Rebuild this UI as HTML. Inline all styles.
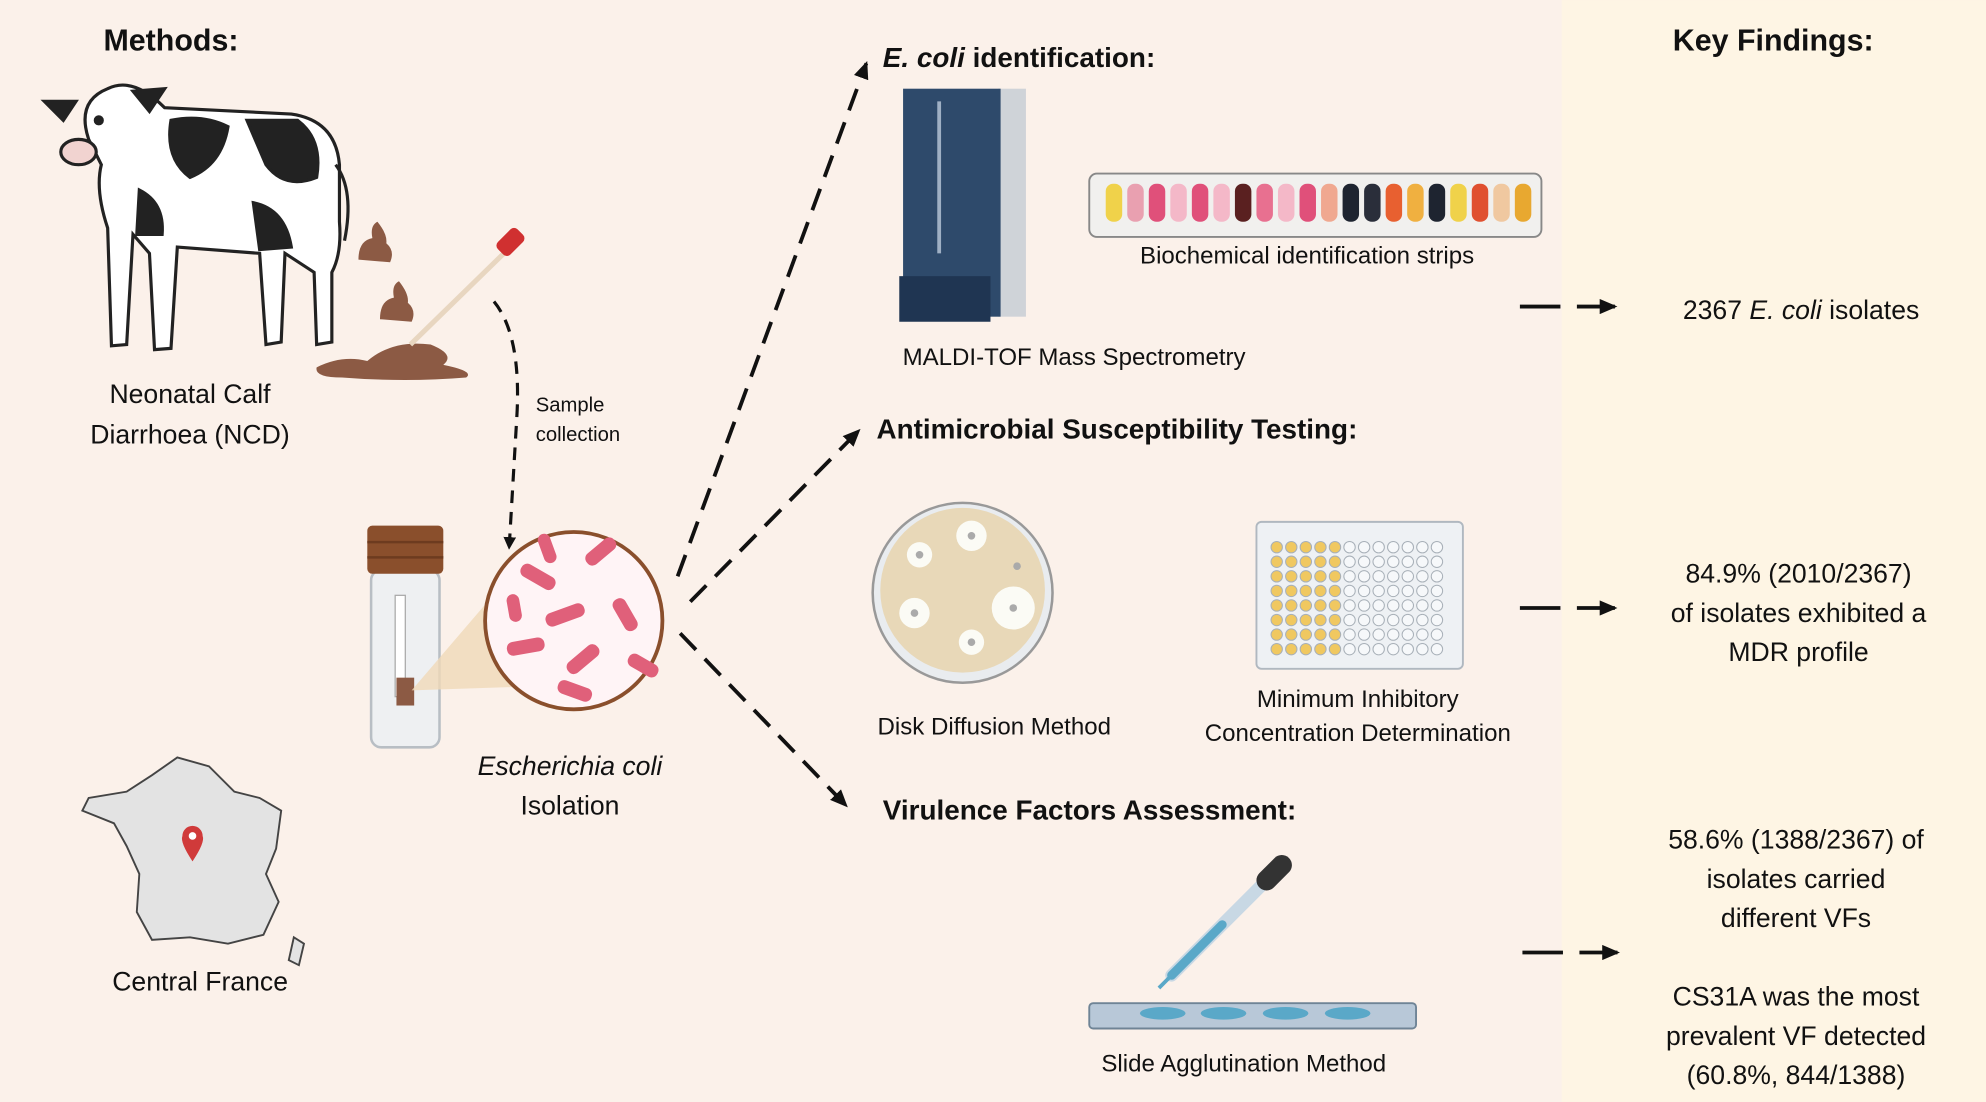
<!DOCTYPE html>
<html><head><meta charset="utf-8"><style>
html,body{margin:0;padding:0;background:#fbf1ea;}
svg{display:block;}
text{font-family:"Liberation Sans",sans-serif;fill:#111;}
</style></head><body>
<svg width="1986" height="1102" viewBox="0 0 1568 870" xmlns="http://www.w3.org/2000/svg">
<defs>
<marker id="ah" markerWidth="10" markerHeight="10" refX="8" refY="5" orient="auto" markerUnits="userSpaceOnUse"><path d="M0,0 L10,5 L0,10 z" fill="#111"/></marker>
<marker id="ah2" markerWidth="14" markerHeight="12" refX="12" refY="6" orient="auto" markerUnits="userSpaceOnUse"><path d="M0,0 L14,6 L0,12 z" fill="#111"/></marker>
</defs>
<rect x="0" y="0" width="1568" height="870" fill="#fbf1ea"/>
<rect x="1233" y="0" width="335" height="870" fill="#fef5e4"/>

<!-- Titles -->
<text x="135" y="40" font-size="24" font-weight="bold" text-anchor="middle">Methods:</text>
<text x="1400" y="40" font-size="24" font-weight="bold" text-anchor="middle">Key Findings:</text>

<!-- Calf -->
<g stroke="#222" stroke-width="2.5">
<path d="M70,110 Q60,80 85,70 Q105,60 130,85 L230,90 Q265,95 268,130 L268,175 Q270,200 262,215 L262,270 L250,272 L248,215 L225,200 L222,270 L210,272 L205,200 L140,195 L135,275 L122,276 L118,200 L105,185 L100,272 L88,273 L85,180 Q75,150 80,130 Z" fill="#fff"/>
<path d="M135,95 Q160,90 180,100 Q175,130 150,140 Q130,125 135,95Z" fill="#222"/>
<path d="M195,95 L235,95 Q255,110 250,140 Q225,150 210,130Z" fill="#222"/>
<path d="M110,150 Q130,160 128,185 L108,185 Z" fill="#222"/>
<path d="M200,160 Q225,165 230,195 L205,197 Z" fill="#222"/>
<path d="M60,80 L35,80 L50,95 Z" fill="#222"/>
<path d="M105,72 L130,70 L118,88 Z" fill="#222"/>
<ellipse cx="62" cy="120" rx="14" ry="10" fill="#f1d3d0"/>
<path d="M265,130 Q280,150 272,190" fill="none"/>
</g>
<circle cx="78" cy="95" r="4" fill="#222"/>
<!-- poop -->
<g fill="#8c5a44">
<path d="M283,205 Q283,190 294,188 Q292,178 298,175 Q306,185 305,192 Q312,198 308,207 Z"/>
<path d="M300,252 Q300,237 311,235 Q309,225 315,222 Q323,232 322,239 Q329,245 325,254 Z"/>
<path d="M250,290 Q270,280 290,285 Q310,268 340,272 Q360,280 350,288 Q375,293 368,298 Q320,302 270,298 Q248,298 250,290 Z"/>
</g>
<line x1="324" y1="272" x2="405" y2="193" stroke="#e8d6c0" stroke-width="4"/>
<rect x="396" y="180" width="14" height="22" rx="4" fill="#d03030" transform="rotate(45 403 191)"/>
<text x="150" y="318" font-size="21" text-anchor="middle">Neonatal Calf</text>
<text x="150" y="350" font-size="21" text-anchor="middle">Diarrhoea (NCD)</text>

<!-- sample collection arrow -->
<path d="M390,238 Q412,265 408,330 L402,432" fill="none" stroke="#111" stroke-width="2.5" stroke-dasharray="10,7" marker-end="url(#ah)"/>
<text x="423" y="325" font-size="16">Sample</text>
<text x="423" y="348" font-size="16">collection</text>

<!-- tube -->
<rect x="293" y="450" width="54" height="140" rx="8" fill="#eef0f2" stroke="#b8bec4" stroke-width="2"/>
<rect x="312" y="470" width="8" height="80" fill="#fff" stroke="#aaa"/>
<rect x="313" y="535" width="14" height="22" fill="#8c5a44"/>
<rect x="290" y="415" width="60" height="38" rx="4" fill="#8a4f2c"/>
<line x1="290" y1="428" x2="350" y2="428" stroke="#6d3b1f" stroke-width="2"/>
<line x1="290" y1="440" x2="350" y2="440" stroke="#6d3b1f" stroke-width="2"/>
<polygon points="325,545 415,440 418,542" fill="#f0d9b8" opacity="0.8"/>
<circle cx="453" cy="490" r="70" fill="#fff4f6" stroke="#8a4f2c" stroke-width="3"/>
<g fill="#e0607a">
<rect x="410" y="450" width="30" height="11" rx="5" transform="rotate(30 425 455)"/>
<rect x="460" y="430" width="28" height="11" rx="5" transform="rotate(-40 474 435)"/>
<rect x="430" y="480" width="32" height="11" rx="5" transform="rotate(-20 446 485)"/>
<rect x="480" y="480" width="28" height="11" rx="5" transform="rotate(60 494 485)"/>
<rect x="400" y="505" width="30" height="11" rx="5" transform="rotate(-10 415 510)"/>
<rect x="445" y="515" width="30" height="11" rx="5" transform="rotate(-40 460 520)"/>
<rect x="495" y="520" width="26" height="11" rx="5" transform="rotate(30 508 525)"/>
<rect x="440" y="540" width="28" height="11" rx="5" transform="rotate(20 454 545)"/>
<rect x="420" y="428" width="24" height="10" rx="5" transform="rotate(70 432 433)"/>
<rect x="395" y="475" width="22" height="10" rx="5" transform="rotate(80 406 480)"/>
</g>
<text x="450" y="612" font-size="21" font-style="italic" text-anchor="middle">Escherichia coli</text>
<text x="450" y="643" font-size="21" text-anchor="middle">Isolation</text>

<!-- France -->
<path d="M140,598 L165,605 L185,625 L205,630 L222,640 L218,670 L210,690 L220,712 L208,738 L180,745 L150,740 L120,742 L108,720 L110,690 L100,668 L90,650 L65,640 L70,630 L100,625 L120,612 Z" fill="#e3e3e3" stroke="#444" stroke-width="1.5"/>
<path d="M232,740 L240,745 L236,762 L228,758 Z" fill="#e3e3e3" stroke="#444" stroke-width="1.5"/>
<path d="M152,680 Q142,665 144,660 A8,8 0 1 1 160,660 Q162,665 152,680Z" fill="#d03a3a"/>
<circle cx="152" cy="660" r="3" fill="#fff"/>
<text x="158" y="782" font-size="21" text-anchor="middle">Central France</text>

<!-- main arrows -->
<g stroke="#111" stroke-width="3" stroke-dasharray="18,10" fill="none">
<line x1="535" y1="455" x2="684" y2="50" marker-end="url(#ah2)"/>
<line x1="545" y1="475" x2="678" y2="340" marker-end="url(#ah2)"/>
<line x1="537" y1="500" x2="668" y2="636" marker-end="url(#ah2)"/>
</g>

<!-- E. coli identification -->
<text x="697" y="53" font-size="22" font-weight="bold"><tspan font-style="italic">E. coli</tspan> identification:</text>
<rect x="788" y="70" width="22" height="180" fill="#cfd3d8"/>
<rect x="713" y="70" width="77" height="180" fill="#2e4a6b"/>
<rect x="740" y="80" width="3" height="120" fill="#9fb0c4"/>
<rect x="710" y="218" width="72" height="36" fill="#1f3552"/>
<text x="848" y="288" font-size="19" text-anchor="middle">MALDI-TOF Mass Spectrometry</text>
<rect x="860" y="137" width="357" height="50" rx="6" fill="#f1f0ee" stroke="#888" stroke-width="1.5"/>
<g>
<rect x="873" y="145" width="13" height="30" rx="6" fill="#f0d24a"/>
<rect x="890" y="145" width="13" height="30" rx="6" fill="#e9a0b0"/>
<rect x="907" y="145" width="13" height="30" rx="6" fill="#e0507a"/>
<rect x="924" y="145" width="13" height="30" rx="6" fill="#f4b8c8"/>
<rect x="941" y="145" width="13" height="30" rx="6" fill="#e0507a"/>
<rect x="958" y="145" width="13" height="30" rx="6" fill="#f4b8c8"/>
<rect x="975" y="145" width="13" height="30" rx="6" fill="#5a2020"/>
<rect x="992" y="145" width="13" height="30" rx="6" fill="#e87090"/>
<rect x="1009" y="145" width="13" height="30" rx="6" fill="#f4b8c8"/>
<rect x="1026" y="145" width="13" height="30" rx="6" fill="#e0507a"/>
<rect x="1043" y="145" width="13" height="30" rx="6" fill="#f0a890"/>
<rect x="1060" y="145" width="13" height="30" rx="6" fill="#1e2430"/>
<rect x="1077" y="145" width="13" height="30" rx="6" fill="#2a2e3a"/>
<rect x="1094" y="145" width="13" height="30" rx="6" fill="#e86030"/>
<rect x="1111" y="145" width="13" height="30" rx="6" fill="#f0b040"/>
<rect x="1128" y="145" width="13" height="30" rx="6" fill="#1e2430"/>
<rect x="1145" y="145" width="13" height="30" rx="6" fill="#f0d24a"/>
<rect x="1162" y="145" width="13" height="30" rx="6" fill="#e05030"/>
<rect x="1179" y="145" width="13" height="30" rx="6" fill="#f0c8a0"/>
<rect x="1196" y="145" width="13" height="30" rx="6" fill="#e8a830"/>
</g>
<text x="1032" y="208" font-size="19" text-anchor="middle">Biochemical identification strips</text>

<!-- AST -->
<text x="692" y="346" font-size="22" font-weight="bold">Antimicrobial Susceptibility Testing:</text>
<circle cx="760" cy="468" r="71" fill="#e9ecef" stroke="#999" stroke-width="2"/>
<circle cx="760" cy="466" r="65" fill="#e8d8b8"/>
<g fill="#fbfbf5"><circle cx="767" cy="423" r="12"/><circle cx="726" cy="438" r="10"/><circle cx="800" cy="480" r="17"/><circle cx="722" cy="484" r="12"/><circle cx="767" cy="507" r="10"/></g>
<g fill="#aaa"><circle cx="767" cy="423" r="3"/><circle cx="726" cy="438" r="3"/><circle cx="800" cy="480" r="3"/><circle cx="722" cy="484" r="3"/><circle cx="767" cy="507" r="3"/><circle cx="803" cy="447" r="3"/></g>
<text x="785" y="580" font-size="19" text-anchor="middle">Disk Diffusion Method</text>
<rect x="992" y="412" width="163" height="116" rx="4" fill="#eef1f4" stroke="#b0b8c0" stroke-width="1.5"/>
<g id="wells">
</g>
<text x="1072" y="558" font-size="19" text-anchor="middle">Minimum Inhibitory</text>
<text x="1072" y="585" font-size="19" text-anchor="middle">Concentration Determination</text>

<!-- Virulence -->
<text x="697" y="647" font-size="22" font-weight="bold">Virulence Factors Assessment:</text>
<rect x="860" y="792" width="258" height="20" rx="3" fill="#b8c8d8" stroke="#6f8496" stroke-width="1.5"/>
<g fill="#5aa8c8"><ellipse cx="918" cy="800" rx="18" ry="5"/><ellipse cx="966" cy="800" rx="18" ry="5"/><ellipse cx="1015" cy="800" rx="18" ry="5"/><ellipse cx="1064" cy="800" rx="18" ry="5"/></g>
<line x1="995" y1="700" x2="925" y2="770" stroke="#c8d8e4" stroke-width="10" stroke-linecap="round"/>
<line x1="965" y1="730" x2="925" y2="770" stroke="#5aa8c8" stroke-width="7" stroke-linecap="round"/>
<line x1="1000" y1="695" x2="1012" y2="683" stroke="#333" stroke-width="16" stroke-linecap="round"/>
<line x1="915" y1="780" x2="925" y2="770" stroke="#5aa8c8" stroke-width="3"/>
<text x="982" y="846" font-size="19" text-anchor="middle">Slide Agglutination Method</text>

<!-- result arrows -->
<g stroke="#111" stroke-width="3">
<line x1="1200" y1="242" x2="1232" y2="242"/><line x1="1245" y1="242" x2="1275" y2="242" marker-end="url(#ah2)"/>
<line x1="1200" y1="480" x2="1232" y2="480"/><line x1="1245" y1="480" x2="1275" y2="480" marker-end="url(#ah2)"/>
<line x1="1202" y1="752" x2="1234" y2="752"/><line x1="1247" y1="752" x2="1277" y2="752" marker-end="url(#ah2)"/>
</g>

<!-- findings -->
<g font-size="21" text-anchor="middle">
<text x="1422" y="252">2367 <tspan font-style="italic">E. coli</tspan> isolates</text>
<text x="1420" y="460">84.9% (2010/2367)</text>
<text x="1420" y="491">of isolates exhibited a</text>
<text x="1420" y="522">MDR profile</text>
<text x="1418" y="670">58.6% (1388/2367) of</text>
<text x="1418" y="701">isolates carried</text>
<text x="1418" y="732">different VFs</text>
<text x="1418" y="794">CS31A was the most</text>
<text x="1418" y="825">prevalent VF detected</text>
<text x="1418" y="856">(60.8%, 844/1388)</text>
</g>
</svg>
<script>
var g=document.getElementById('wells'),ns='http://www.w3.org/2000/svg';
for(var r=0;r<8;r++)for(var c=0;c<12;c++){var e=document.createElementNS(ns,'circle');
e.setAttribute('cx',1008+c*11.5);e.setAttribute('cy',432+r*11.5);e.setAttribute('r',4.5);
e.setAttribute('fill',c<5?'#f0c860':'#f6f8fa');e.setAttribute('stroke','#a8b0b8');e.setAttribute('stroke-width','0.8');g.appendChild(e);}
</script>
</body></html>
